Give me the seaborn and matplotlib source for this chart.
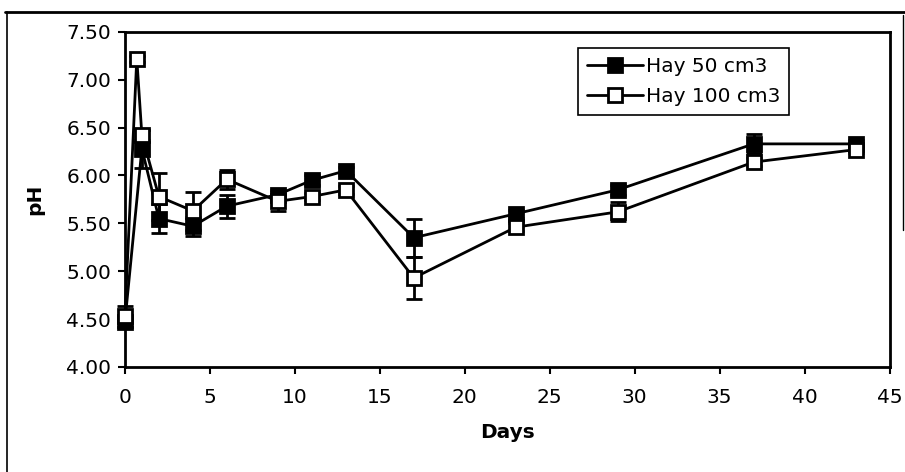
import matplotlib
matplotlib.use("Agg")
import matplotlib.pyplot as plt
from matplotlib.lines import Line2D
import seaborn as sns
import pandas as pd

# Sampling days and pH readings
days_50 = [0, 1, 2, 4, 6, 9, 11, 13, 17, 23, 29, 37, 43]
ph_50 = [4.47, 6.28, 5.55, 5.47, 5.68, 5.80, 5.95, 6.05, 5.35, 5.60, 5.85, 6.33, 6.33]
err_50 = [0.05, 0.20, 0.15, 0.10, 0.12, 0.05, 0.05, 0.04, 0.20, 0.04, 0.05, 0.10, 0.04]

days_100 = [0, 0.7, 1, 2, 4, 6, 9, 11, 13, 17, 23, 29, 37, 43]
ph_100 = [4.53, 7.22, 6.42, 5.78, 5.63, 5.96, 5.73, 5.78, 5.85, 4.93, 5.46, 5.62, 6.14, 6.27]
err_100 = [0.11, 0.03, 0.05, 0.25, 0.20, 0.10, 0.10, 0.04, 0.04, 0.22, 0.04, 0.10, 0.04, 0.04]

series_names = ["Hay 50 cm3", "Hay 100 cm3"]
x_ticks = [0, 5, 10, 15, 20, 25, 30, 35, 40, 45]
y_ticks = [4.00, 4.50, 5.00, 5.50, 6.00, 6.50, 7.00, 7.50]

sns.set_theme(style="white")
plt.rcParams["font.family"] = ["DejaVu Sans"]
plt.rcParams.update({"text.color": "black", "axes.labelcolor": "black",
                     "xtick.color": "black", "ytick.color": "black"})
FS = 14.5

fig = plt.figure(figsize=(9.05, 4.72), dpi=100)
ax = fig.add_axes([0.138, 0.2225, 0.845, 0.71])

df = pd.concat([
    pd.DataFrame({"Days": days_50, "pH": ph_50, "err": err_50, "series": series_names[0]}),
    pd.DataFrame({"Days": days_100, "pH": ph_100, "err": err_100, "series": series_names[1]}),
], ignore_index=True)

face = {series_names[0]: "black", series_names[1]: "white"}
for name in series_names:
    sub = df[df["series"] == name]
    eb = ax.errorbar(sub["Days"], sub["pH"], yerr=sub["err"], fmt="none",
                     ecolor="black", elinewidth=2, capsize=6, capthick=2, zorder=2)
    for art in eb.lines[1]:
        art.set_clip_on(False)
    for art in eb.lines[2]:
        art.set_clip_on(False)
    sns.lineplot(data=sub, x="Days", y="pH", ax=ax, color="black", linewidth=2,
                 marker="s", markersize=10.5, markerfacecolor=face[name],
                 markeredgecolor="black", markeredgewidth=2, label=name,
                 sort=False, estimator=None, zorder=3)

for ln in ax.lines:
    ln.set_clip_on(False)

ax.set_xlim(0, 45)
ax.set_ylim(4.0, 7.5)
ax.set_xticks(x_ticks)
ax.set_xticklabels([str(t) for t in x_ticks], fontsize=FS)
ax.set_yticks(y_ticks)
ax.set_yticklabels([f"{t:.2f}" for t in y_ticks], fontsize=FS)
ax.tick_params(axis="both", direction="out", length=5, width=1.5, color="black",
               labelcolor="black", bottom=True, left=True, pad=5)
ax.tick_params(axis="x", pad=10)
for s in ax.spines.values():
    s.set_color("black")
    s.set_linewidth(2)

ax.set_xlabel("Days", fontsize=FS, fontweight="bold", labelpad=12, color="black")
ax.set_ylabel("pH", fontsize=FS, fontweight="bold", labelpad=16, color="black")

leg = ax.legend(loc="upper right", bbox_to_anchor=(0.869, 0.952), fontsize=FS,
                frameon=True, fancybox=False, edgecolor="black", framealpha=1,
                handlelength=2.8, handletextpad=0.15, borderpad=0.45,
                labelspacing=0.55, borderaxespad=0)
leg.get_frame().set_linewidth(1.2)
for t in leg.get_texts():
    t.set_color("black")

# Page border around the chart
fig.add_artist(Line2D([5 / 905, 1.0], [1 - 12 / 472, 1 - 12 / 472],
                      transform=fig.transFigure, color="black", linewidth=2))
fig.add_artist(Line2D([7 / 905, 7 / 905], [0, 1 - 12 / 472],
                      transform=fig.transFigure, color="black", linewidth=1.2))
fig.add_artist(Line2D([903 / 905, 903 / 905], [1 - 230 / 472, 1 - 15 / 472],
                      transform=fig.transFigure, color="black", linewidth=1))

fig.savefig("out.png", dpi=100, facecolor="white")
